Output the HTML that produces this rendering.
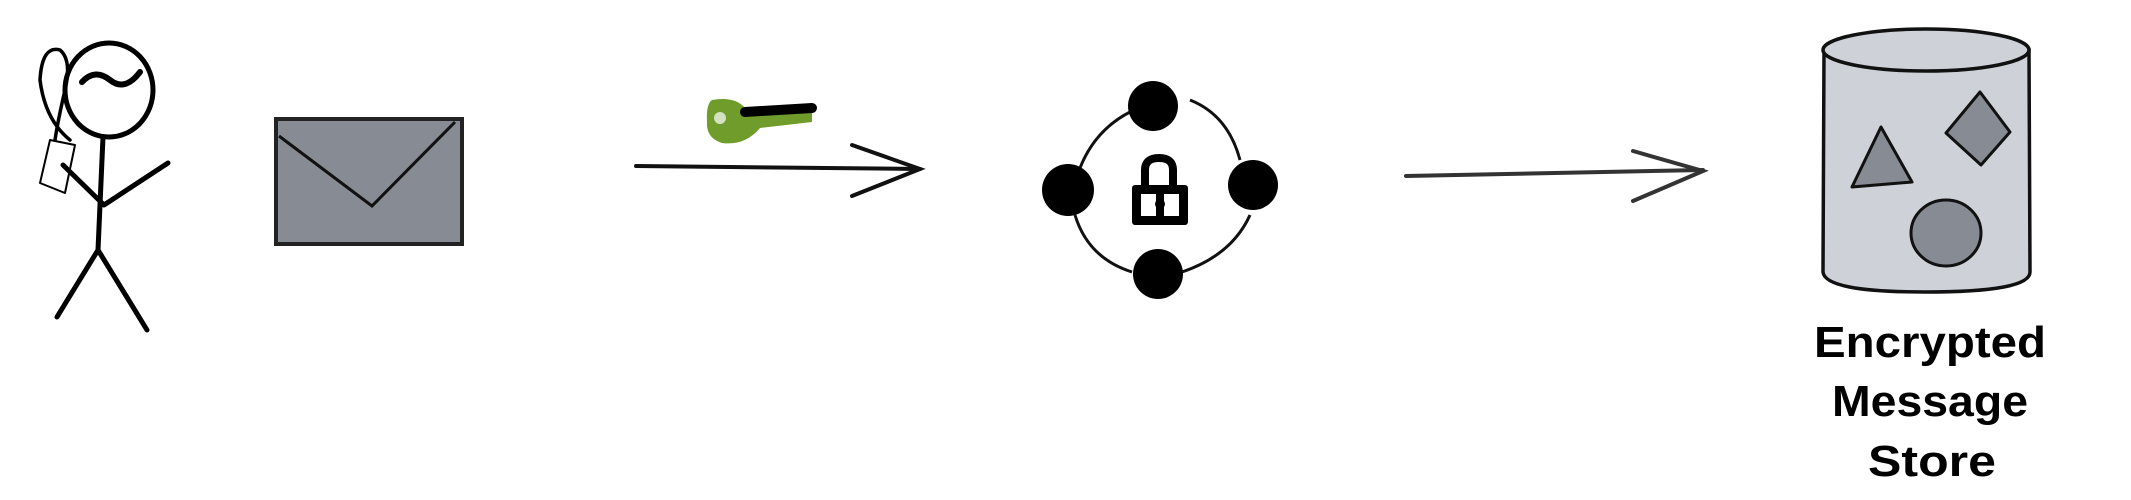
<!DOCTYPE html>
<html><head><meta charset="utf-8"><style>
html,body{margin:0;padding:0;background:#fff;}
svg{display:block}
</style></head><body>
<svg width="2131" height="500" viewBox="0 0 2131 500" xmlns="http://www.w3.org/2000/svg">
<g fill="none" stroke="#000" stroke-width="5" stroke-linecap="round" stroke-linejoin="round">
  <!-- stick figure -->
  <ellipse cx="109" cy="90" rx="44" ry="47"/>
  <path d="M82 82 Q95 68 110 80 Q125 92 140 72" stroke-width="6"/>
  <path d="M70 140 Q45 120 40 80 Q42 45 60 50 Q72 60 65 90 Q58 120 55 140" stroke-width="3.5"/>
  <path d="M103 137 L98 250"/>
  <path d="M98 250 L57 317 M98 250 L147 330"/>
  <path d="M104 205 L63 165 M104 205 L168 163"/>
  <path d="M40 183 L50 140 L75 145 L65 193 Z" stroke-width="2"/>
</g>
<!-- envelope -->
<rect x="276" y="119" width="186" height="125" fill="#868b94" stroke="#222" stroke-width="4"/>
<path d="M279 136 L372 206 L455 122" fill="none" stroke="#111" stroke-width="3"/>
<!-- key -->
<g>
  <path d="M712 100 Q735 96 745 108 L812 105 L812 122 L760 128 Q745 146 722 143 Q706 138 707 122 Q706 104 712 100 Z" fill="#6f9c2b"/>
  <path d="M745 112 L812 108" stroke="#000" stroke-width="10" stroke-linecap="round"/>
  <circle cx="720" cy="118" r="6" fill="#fff" opacity="0.7"/>
</g>
<!-- arrow 1 -->
<g fill="none" stroke="#111" stroke-width="4" stroke-linecap="round">
  <path d="M636 166 L920 169"/>
  <path d="M852 145 L920 169 L852 196"/>
</g>
<!-- lock ring -->
<g fill="none" stroke="#111" stroke-width="3">
  <path d="M1080 168 Q1095 130 1130 112"/>
  <path d="M1190 100 Q1228 115 1240 160"/>
  <path d="M1250 215 Q1232 255 1182 272"/>
  <path d="M1132 272 Q1088 258 1075 215"/>
</g>
<g fill="#000">
  <circle cx="1153" cy="106" r="25"/>
  <circle cx="1068" cy="190" r="26"/>
  <circle cx="1253" cy="185" r="25"/>
  <circle cx="1158" cy="274" r="25"/>
</g>
<g>
  <path d="M1145 186 L1145 170 Q1145 158 1159 158 Q1173 158 1173 170 L1173 186" fill="none" stroke="#000" stroke-width="8"/>
  <rect x="1132" y="185" width="56" height="40" rx="3" fill="#000"/>
  <rect x="1141" y="194" width="15" height="22" fill="#fff"/>
  <rect x="1164" y="194" width="15" height="22" fill="#fff"/>
  <circle cx="1160" cy="204" r="5" fill="#000"/>
  <rect x="1156" y="204" width="8" height="12" fill="#000"/>
</g>
<!-- arrow 2 -->
<g fill="none" stroke="#333" stroke-width="4" stroke-linecap="round">
  <path d="M1406 176 L1703 170"/>
  <path d="M1633 151 L1703 171 L1633 201"/>
</g>
<!-- cylinder -->
<path d="M1824 50 L1823 272 Q1825 292 1925 292 Q2030 292 2030 272 L2029 50 Z" fill="#ced2d8" stroke="#111" stroke-width="3.5"/>
<ellipse cx="1926" cy="50" rx="103" ry="21" fill="#ced2d8" stroke="#111" stroke-width="3.5"/>
<path d="M1881 127 L1852 187 L1912 182 Z" fill="#868b94" stroke="#111" stroke-width="3" stroke-linejoin="round"/>
<path d="M1980 92 L2010 132 L1981 165 L1946 133 Z" fill="#868b94" stroke="#111" stroke-width="3" stroke-linejoin="round"/>
<ellipse cx="1946" cy="233" rx="35" ry="33" fill="#868b94" stroke="#111" stroke-width="3"/>
<g font-family="Liberation Sans, sans-serif" font-size="44" font-weight="bold" fill="#000" text-anchor="middle">
  <text x="1930" y="357" textLength="232" lengthAdjust="spacingAndGlyphs">Encrypted</text>
  <text x="1930" y="416" textLength="196" lengthAdjust="spacingAndGlyphs">Message</text>
  <text x="1932" y="476" textLength="128" lengthAdjust="spacingAndGlyphs">Store</text>
</g>
</svg>
</body></html>
